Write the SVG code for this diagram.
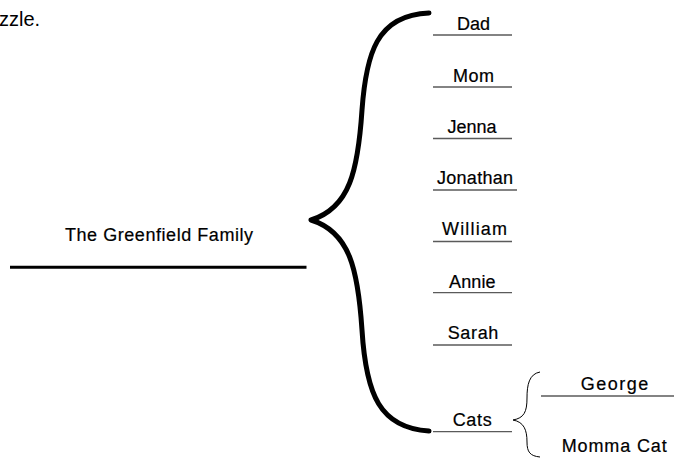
<svg xmlns="http://www.w3.org/2000/svg" width="674" height="467" viewBox="0 0 674 467">
<style>
text{font-family:"Liberation Sans",Arial,sans-serif;font-size:18px;fill:#000;stroke:#000;stroke-width:0.2}
.ln{stroke:#5a5a5a;stroke-width:1.3;fill:none}
.big{stroke:#000;stroke-width:5;fill:none;stroke-linecap:round;stroke-linejoin:round}
.small{stroke:#000;stroke-width:1;fill:none}
</style>
<rect width="674" height="467" fill="#fff"/>
<text x="-1" y="26" style="font-size:20px;stroke:none" fill="#222">zzle.</text>
<g id="root">
<text x="65" y="240.7" textLength="188" lengthAdjust="spacing">The Greenfield Family</text>
<line x1="10" y1="267.3" x2="306.5" y2="267.3" stroke="#000" stroke-width="3"/>
</g>
<g id="connectors">
<path class="big" d="M429,13 C376,15 366,55 362,110 C358,170 350,208 311,220 C350,232 358,270 362,330 C366,395 380,428 429,431"/>
<path class="small" d="M540,372 C529,374 527,385 527,398 C527,412 524,418 513,420 C524,422 527,430 527,442 C527,452 530,456 540,457"/>
</g>
<g id="dad"><text x="457" y="29.5" textLength="33" lengthAdjust="spacing">Dad</text><line class="ln" x1="433" y1="35" x2="512" y2="35"/></g>
<g id="mom"><text x="453" y="81.7" textLength="41" lengthAdjust="spacing">Mom</text><line class="ln" x1="433" y1="87" x2="512" y2="87"/></g>
<g id="jenna"><text x="447.5" y="133.3" textLength="49" lengthAdjust="spacing">Jenna</text><line class="ln" x1="433" y1="138.5" x2="512" y2="138.5"/></g>
<g id="jonathan"><text x="437" y="184" textLength="76" lengthAdjust="spacing">Jonathan</text><line class="ln" x1="433" y1="190" x2="517" y2="190"/></g>
<g id="william"><text x="442" y="234.5" textLength="65" lengthAdjust="spacing">William</text><line class="ln" x1="433" y1="241.5" x2="512" y2="241.5"/></g>
<g id="annie"><text x="449" y="288.3" textLength="46.5" lengthAdjust="spacing">Annie</text><line class="ln" x1="433" y1="292.7" x2="512" y2="292.7"/></g>
<g id="sarah"><text x="447.7" y="339.3" textLength="50.6" lengthAdjust="spacing">Sarah</text><line class="ln" x1="433" y1="345" x2="512" y2="345"/></g>
<g id="cats"><text x="452.7" y="426" textLength="39" lengthAdjust="spacing">Cats</text><line class="ln" x1="433" y1="431.7" x2="512" y2="431.7"/></g>
<g id="george"><text x="580.7" y="390" textLength="67.6" lengthAdjust="spacing">George</text><line class="ln" x1="541" y1="396" x2="674" y2="396"/></g>
<g id="mommacat"><text x="561.7" y="451.7" textLength="105" lengthAdjust="spacing">Momma Cat</text></g>
</svg>
